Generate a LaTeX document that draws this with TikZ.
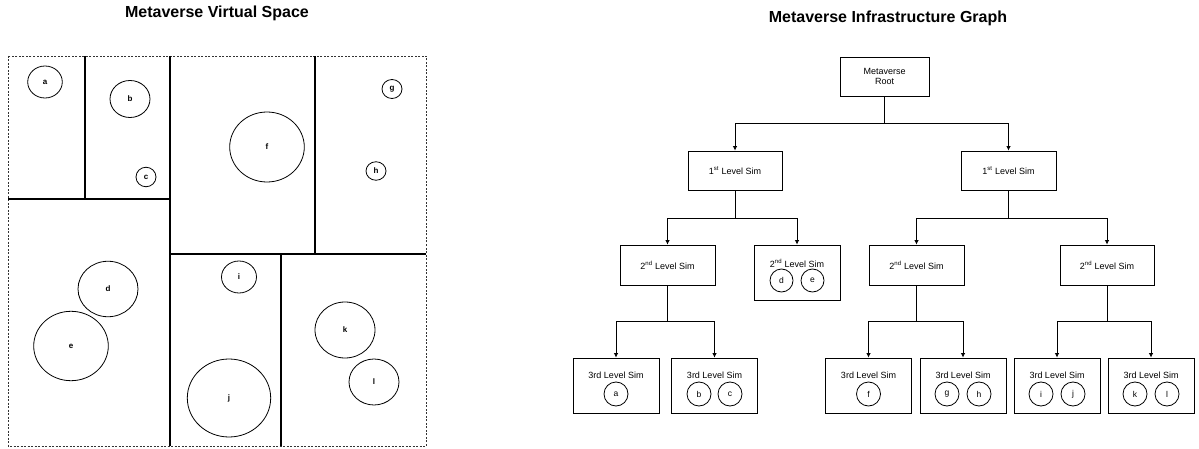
\documentclass[tikz,border=0pt]{standalone}
\usepackage{fontspec}
\setmainfont{Liberation Sans}
\usetikzlibrary{arrows.meta,shapes.geometric}
\begin{document}
\begin{tikzpicture}[x=1pt,y=-1pt,
  title/.style={font=\fontsize{16}{19}\selectfont\bfseries, inner sep=0pt},
  wall/.style={line width=1.3pt},
  zc/.style 2 args={draw, line width=0.8pt, inner sep=0pt, font=\fontsize{8}{9}\selectfont\bfseries, shape=ellipse, minimum width=#1, minimum height=#2},
  simbox/.style={draw, line width=0.8pt, rectangle, inner sep=0pt, align=center, font=\fontsize{9}{10.5}\selectfont},
  lbl/.style={inner sep=0pt, font=\fontsize{9}{10.5}\selectfont},
  obj/.style={draw, circle, line width=0.8pt, inner sep=0pt, font=\fontsize{8.5}{9}\selectfont},
  arr/.style={line width=0.8pt, -{Latex[length=4.5pt,width=4.5pt]}},
  l3/.style={simbox, minimum width=86pt, minimum height=55pt},
]
\useasboundingbox (0,0) rectangle (1199,449);
% ---------------- Left panel ----------------
\node[title] (t1) at (217,13) {Metaverse Virtual Space};
\draw[line width=0.6pt, dash pattern=on 2pt off 1.5pt, black!80] (8,56) rectangle (426,446);
\draw[wall] (85,56) -- (85,199);
\draw[wall] (8,199) -- (170,199);
\draw[wall] (170,56) -- (170,446);
\draw[wall] (315,56) -- (315,254);
\draw[wall] (170,254) -- (426,254);
\draw[wall] (281,254) -- (281,446);
\node[zc={34.6pt}{32pt}] (za) at (45,82) {a};
\node[zc={40pt}{37pt}] (zb) at (130,99) {b};
\node[zc={20pt}{19.5pt}] (zcc) at (146,177) {c};
\node[zc={60pt}{55.5pt}] (zd) at (108,289) {d};
\node[zc={74.6pt}{69.4pt}] (ze) at (71,346) {e};
\node[zc={74.6pt}{70pt}] (zf) at (267,147) {f};
\node[zc={20pt}{19pt}] (zg) at (392,89) {g};
\node[zc={20pt}{18.5pt}] (zh) at (376,171) {h};
\node[zc={35pt}{32pt}] (zi) at (239,277) {i};
\node[zc={83.4pt}{78pt}] (zj) at (229,398) {j};
\node[zc={60pt}{56pt}] (zk) at (345,330) {k};
\node[zc={50pt}{46pt}] (zl) at (374,382) {l};
% ---------------- Right panel ----------------
\node[title] (t2) at (888,18) {Metaverse Infrastructure Graph};
\node[simbox, minimum width=89pt, minimum height=39pt] (root) at (884.5,76.5) {Metaverse\\Root};
\node[simbox, minimum width=94pt, minimum height=39pt] (l1a) at (735,170.5) {1\textsuperscript{st} Level Sim};
\node[simbox, minimum width=95pt, minimum height=39pt] (l1b) at (1008.5,170.5) {1\textsuperscript{st} Level Sim};
\node[simbox, minimum width=95pt, minimum height=40pt] (l2a) at (667.5,265) {2\textsuperscript{nd} Level Sim};
\node[simbox, minimum width=86pt, minimum height=55pt] (l2b) at (797,272.5) {};
\node[lbl] (l2bt) at (797,263) {2\textsuperscript{nd} Level Sim};
\node[obj, minimum size=23pt] (od) at (781.5,280.5) {d};
\node[obj, minimum size=23pt] (oe) at (812.5,280.5) {e};
\node[simbox, minimum width=95pt, minimum height=40pt] (l2c) at (916.5,265) {2\textsuperscript{nd} Level Sim};
\node[simbox, minimum width=94pt, minimum height=40pt] (l2d) at (1107,265) {2\textsuperscript{nd} Level Sim};
% level 3
\node[l3] (l3a) at (616,385.5) {};
\node[l3] (l3b) at (714.5,385.5) {};
\node[l3] (l3c) at (868.5,385.5) {};
\node[l3] (l3d) at (963,385.5) {};
\node[l3] (l3e) at (1057,385.5) {};
\node[l3] (l3f) at (1151,385.5) {};
\foreach \n/\x in {a/616,b/714.5,c/868.5,d/963,e/1057,f/1151}{
  \node[lbl] (t3\n) at (\x,375) {3rd Level Sim};
}
\node[obj, minimum size=24pt] (oa) at (616,394) {a};
\node[obj, minimum size=24pt] (ob) at (699,394) {b};
\node[obj, minimum size=24pt] (oc) at (730,394) {c};
\node[obj, minimum size=24pt] (of) at (868.5,394) {f};
\node[obj, minimum size=24pt] (og) at (947,394) {g};
\node[obj, minimum size=24pt] (oh) at (979,394) {h};
\node[obj, minimum size=24pt] (oi) at (1041,394) {i};
\node[obj, minimum size=24pt] (oj) at (1073,394) {j};
\node[obj, minimum size=24pt] (ok) at (1135,394) {k};
\node[obj, minimum size=24pt] (ol) at (1167,394) {l};
% connectors
\draw[arr] (root.south) -- ++(0,27) -| (l1a.north);
\draw[arr] (root.south) -- ++(0,27) -| (l1b.north);
\draw[arr] (l1a.south) -- ++(0,28) -| (l2a.north);
\draw[arr] (l1a.south) -- ++(0,28) -| (l2b.north);
\draw[arr] (l1b.south) -- ++(0,28) -| (l2c.north);
\draw[arr] (l1b.south) -- ++(0,28) -| (l2d.north);
\draw[arr] (l2a.south) -- ++(0,36) -| (l3a.north);
\draw[arr] (l2a.south) -- ++(0,36) -| (l3b.north);
\draw[arr] (l2c.south) -- ++(0,36) -| (l3c.north);
\draw[arr] (l2c.south) -- ++(0,36) -| (l3d.north);
\draw[arr] (l2d.south) -- ++(0,36) -| (l3e.north);
\draw[arr] (l2d.south) -- ++(0,36) -| (l3f.north);
\end{tikzpicture}
\end{document}
